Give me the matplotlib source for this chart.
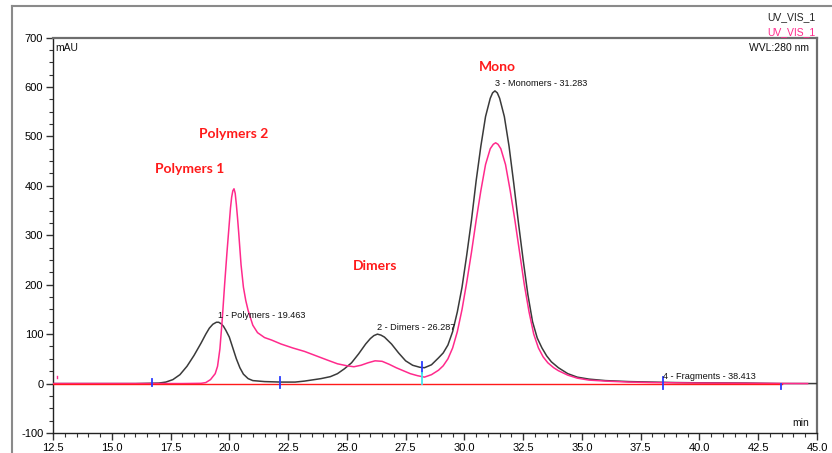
import matplotlib
matplotlib.use("Agg")
import matplotlib.pyplot as plt
from matplotlib.lines import Line2D
from matplotlib.ticker import MultipleLocator, FormatStrFormatter, FuncFormatter

# ---- data ----
t_black = [12.5, 14.0, 16.0, 17.0, 17.3, 17.6, 17.9, 18.2, 18.5, 18.8, 19.0, 19.15, 19.3, 19.45,
           19.55, 19.65, 19.75, 19.85, 20.0, 20.15, 20.3, 20.45, 20.6, 20.8, 21.0, 21.5, 22.2,
           22.8, 23.2, 23.9, 24.3, 24.6, 24.9, 25.2, 25.5, 25.8, 26.0, 26.15, 26.3, 26.45, 26.6,
           26.9, 27.2, 27.5, 27.8, 28.1, 28.3, 28.6, 28.9, 29.1, 29.3, 29.5, 29.7, 29.9, 30.1,
           30.3, 30.5, 30.7, 30.9, 31.1, 31.2, 31.3, 31.4, 31.5, 31.7, 31.9, 32.1, 32.3, 32.5,
           32.7, 32.9, 33.1, 33.3, 33.5, 33.7, 34.0, 34.4, 34.8, 35.3, 36.0, 37.0, 38.0, 39.0,
           40.0, 42.0, 43.5, 45.0]
v_black = [0, 0, 0, 1, 3, 8, 18, 35, 57, 82, 100, 112, 120, 124,
           124, 121, 116, 108, 94, 72, 50, 32, 19, 10, 6, 4, 3,
           3, 5, 10, 14, 20, 30, 42, 60, 80, 91, 97, 100, 98, 94,
           80, 62, 46, 37, 33, 32, 38, 52, 62, 78, 105, 145, 195, 260,
           330, 410, 480, 540, 577, 588, 592, 588, 577, 540, 480, 405, 325, 250,
           180, 125, 92, 72, 56, 44, 32, 20, 13, 9, 6, 4, 3, 2,
           1.5, 1, 0, 0]

t_pink = [12.5, 15.0, 18.0, 18.8, 19.0, 19.2, 19.4, 19.5, 19.6, 19.7, 19.8, 19.9, 20.0, 20.05,
          20.1, 20.15, 20.2, 20.25, 20.3, 20.35, 20.4, 20.5, 20.6, 20.7, 20.8, 21.0, 21.2, 21.5,
          21.8, 22.2, 22.7, 23.2, 23.7, 24.2, 24.6, 25.0, 25.3, 25.6, 25.9, 26.2, 26.5, 26.8,
          27.1, 27.4, 27.7, 28.0, 28.3, 28.6, 28.9, 29.1, 29.3, 29.5, 29.7, 29.9, 30.1, 30.3,
          30.5, 30.7, 30.9, 31.1, 31.23, 31.33, 31.43, 31.55, 31.75, 31.95, 32.15, 32.35, 32.55,
          32.75, 32.95, 33.15, 33.35, 33.55, 33.8, 34.0, 34.4, 34.8, 35.3, 36.0, 37.0, 38.0,
          40.0, 42.0, 44.6]
v_pink = [0, 0, 0, 0.5, 2, 8, 20, 35, 70, 130, 200, 265, 325, 355,
          377, 390, 394, 385, 362, 335, 305, 240, 195, 168, 148, 118, 103, 93,
          88, 80, 72, 65, 56, 47, 40, 36, 34, 37, 42, 46, 45, 39,
          32, 26, 20, 16, 13, 18, 27, 36, 50, 72, 105, 150, 205, 265,
          330, 390, 443, 475, 484, 487, 484, 475, 443, 390, 330, 265, 200,
          145, 100, 72, 54, 42, 32, 26, 17, 11, 7, 5, 3, 2,
          1, 0.5, 0]

peak_labels = ["1 - Polymers - 19.463", "2 - Dimers - 26.287",
               "3 - Monomers - 31.283", "4 - Fragments - 38.413"]
peak_label_pos = [(19.52, 129), (26.3, 105), (31.31, 598), (38.46, 6)]

group_names = ["Polymers 2", "Polymers 1", "Dimers", "Mono"]
group_pos = [(20.2, 505), (18.3, 435), (26.2, 238), (31.4, 640)]

# integration delimiters: (time, y_from, y_to)
blue_marks = [(16.7, -4, 10), (22.16, -9, 14), (28.2, 21, 43), (38.43, -10, 13), (43.48, -10, 0)]
cyan_marks = [(28.2, 0, 21)]

W, H = 832, 453
fig = plt.figure(figsize=(W / 100, H / 100), dpi=100)
fig.patch.set_facecolor("white")


def fx(px):
    return px / W


def fy(py):
    return 1 - py / H


ax = fig.add_axes([fx(53), fy(433), fx(817) - fx(53), fy(37.5) - fy(433)])

BLACK = "#3a3a3a"
PINK = "#ff2a8c"
RED = "#ff1a1a"

ax.plot(t_black, v_black, color=BLACK, lw=1.1, zorder=3)
ax.plot(t_pink, v_pink, color=PINK, lw=1.1, zorder=4)
ax.plot([12.5, 43.5], [0, 0], color=RED, lw=1.0, zorder=5)

for t, a, b in blue_marks:
    ax.plot([t, t], [a, b], color="#2a3cff", lw=1.3, zorder=6)
for t, a, b in cyan_marks:
    ax.plot([t, t], [a, b], color="#40e8f0", lw=1.3, zorder=6)
ax.plot([12.65, 12.65], [11, 16], color=PINK, lw=1.0, zorder=6)

ax.set_xlim(12.5, 45.0)
ax.set_ylim(-100, 700)
ax.xaxis.set_major_locator(MultipleLocator(2.5))
ax.xaxis.set_minor_locator(MultipleLocator(0.5))
ax.yaxis.set_major_locator(MultipleLocator(100))
ax.yaxis.set_minor_locator(MultipleLocator(25))
ax.xaxis.set_major_formatter(FormatStrFormatter("%.1f"))
ax.yaxis.set_major_formatter(FuncFormatter(lambda v, p: "%d" % v))

tickfont = "Liberation Sans"
for lab in ax.get_xticklabels() + ax.get_yticklabels():
    lab.set_fontfamily(tickfont)
ax.tick_params(axis="both", which="major", direction="out", length=5, width=1.0,
               color="#333333", labelsize=8, pad=2)
ax.tick_params(axis="both", which="minor", direction="out", length=3, width=0.8,
               color="#333333")

for s in ["left", "bottom"]:
    ax.spines[s].set_color("#222222")
    ax.spines[s].set_linewidth(1.0)
for s in ["top", "right"]:
    ax.spines[s].set_color("#6e6e6e")
    ax.spines[s].set_linewidth(1.6)

# peak labels
for txt, (t, v) in zip(peak_labels, peak_label_pos):
    ax.text(t, v, txt, fontsize=6.6, family="Liberation Sans", color="#111111",
            ha="left", va="bottom", zorder=7)

# red group names
for txt, (t, v) in zip(group_names, group_pos):
    ax.text(t, v, txt, fontsize=10, family="Lato", fontweight="bold", color=RED,
            ha="center", va="center", zorder=7)

ax.text(0.003, 0.985, "mAU", transform=ax.transAxes, fontsize=7.5, family=tickfont,
        ha="left", va="top", color="#111111")
ax.text(0.99, 0.985, "WVL:280 nm", transform=ax.transAxes, fontsize=7.5, family=tickfont,
        ha="right", va="top", color="#111111")
ax.text(0.99, 0.012, "min", transform=ax.transAxes, fontsize=7.5, family=tickfont,
        ha="right", va="bottom", color="#111111")

fig.text(fx(815), fy(17), "UV_VIS_1", fontsize=7.5, family=tickfont, color="#222222",
         ha="right", va="center")
fig.text(fx(815), fy(32), "UV_VIS_1", fontsize=7.5, family=tickfont, color=PINK,
         ha="right", va="center")

# outer frame
fig.add_artist(Line2D([fx(12), fx(12)], [fy(6), 0], color="#8a8a8a", lw=1.5,
                      transform=fig.transFigure))
fig.add_artist(Line2D([fx(12), 1], [fy(6), fy(6)], color="#8a8a8a", lw=1.5,
                      transform=fig.transFigure))

fig.savefig("out.png", dpi=100)
